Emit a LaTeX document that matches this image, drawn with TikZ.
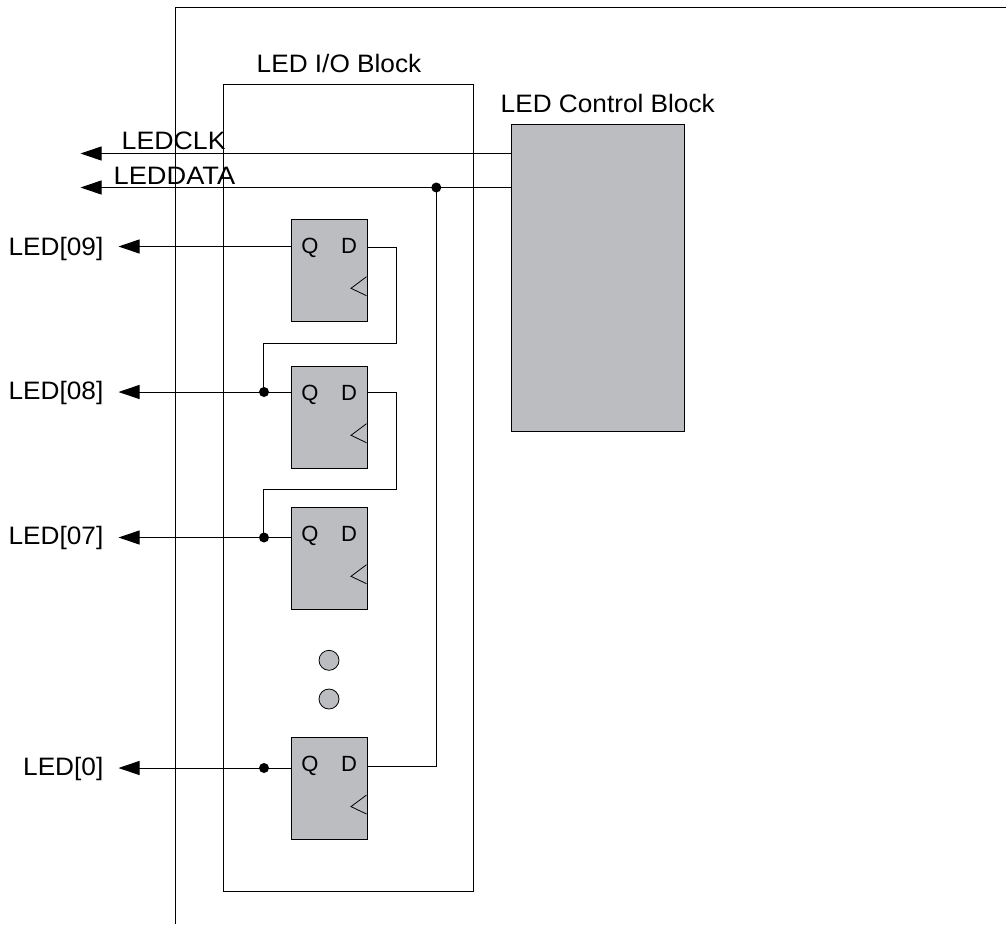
\documentclass[tikz,border=0pt]{standalone}
\usepackage{fontspec}
\setmainfont[FakeStretch=1.04]{Liberation Sans}
\newfontfamily\widefont[FakeStretch=1.08]{Liberation Sans}
\newfontfamily\clkfont[FakeStretch=1.06]{Liberation Sans}
\newfontfamily\pinfont{Liberation Sans}
\usetikzlibrary{arrows.meta,calc}
\definecolor{ffgray}{HTML}{BBBDC0}
\tikzset{
  x=1pt,y=-1pt,
  wire/.style={draw=black,line width=1pt},
  sig/.style={wire,{Triangle[length=21pt,width=14pt]}-},
  ffbox/.style={draw=black,fill=ffgray,line width=1pt,minimum width=76pt,minimum height=102pt,inner sep=0pt,anchor=north west},
  ctrl/.style={draw=black,fill=ffgray,line width=1pt,minimum width=173.5pt,minimum height=307pt,inner sep=0pt,anchor=north west},
  io/.style={draw=black,line width=1pt,minimum width=250pt,minimum height=807pt,inner sep=0pt,anchor=north west},
  lbl/.style={inner sep=0pt,font=\fontsize{25.2pt}{28pt}\selectfont},
  lblw/.style={inner sep=0pt,font=\widefont\fontsize{25.2pt}{28pt}\selectfont},
  lblc/.style={inner sep=0pt,font=\clkfont\fontsize{25.2pt}{28pt}\selectfont},
  pin/.style={inner sep=0pt,font=\pinfont\fontsize{22pt}{26pt}\selectfont},
  dot/.style={circle,fill=black,inner sep=0pt,minimum size=10pt},
  gdot/.style={circle,draw=black,fill=ffgray,line width=0.8pt,inner sep=0pt,minimum size=20pt},
  clk/.style={draw=black,line width=0.8pt},
}
\begin{document}
\begin{tikzpicture}
\useasboundingbox (0,0) rectangle (1006,924);
\coordinate (fTR) at (1006,7.5);
\coordinate (fTL) at (175.5,7.5);
\coordinate (fBL) at (175.5,924);
\draw[wire] (fTR) -- (fTL) -- (fBL);

\node[io] (io) at (222.5,83.5) {};
\node[ctrl] (cb) at (510.5,123.5) {};
\node[ffbox] (f9) at (290.5,218.5) {};
\node[ffbox] (f8) at (290.5,365.5) {};
\node[ffbox] (f7) at (290.5,506.5) {};
\node[ffbox] (f0) at (290.5,736.5) {};
\node[gdot] (g1) at (329,660.3) {};
\node[gdot] (g2) at (329,699) {};

\foreach \n/\y in {f9/219,f8/366,f7/507,f0/737.3}{
  \node[pin,anchor=base] (\n q) at (310,\y+34.3) {Q};
  \node[pin,anchor=base] (\n d) at (349,\y+34.3) {D};
  \coordinate (\n a) at (366.5,\y+57.7);
  \coordinate (\n b) at (351,\y+69.3);
  \coordinate (\n c) at (366.5,\y+76.7);
  \draw[clk] (\n a) -- (\n b) -- (\n c);
}

\node[lblc,anchor=base west] (lclk) at (121.5,149.5) {LEDCLK};
\node[lblw,anchor=base west] (ldata) at (113.5,184.5) {LEDDATA};
\node[lbl,anchor=base east] (l9) at (103.5,255) {LED[09]};
\node[lbl,anchor=base east] (l8) at (103.5,399) {LED[08]};
\node[lbl,anchor=base east] (l7) at (103.5,544.3) {LED[07]};
\node[lbl,anchor=base east] (l0) at (103.5,775) {LED[0]};
\node[lbl,anchor=base west] (tio) at (256.5,72.7) {LED I/O Block};
\node[lbl,anchor=base west] (tcb) at (500.5,112.7) {LED Control Block};

\coordinate (aclk) at (80.5,153.5);
\coordinate (adata) at (80.5,187.5);
\coordinate (a9) at (118.5,246.5);
\coordinate (a8) at (118.5,392);
\coordinate (a7) at (118.5,537.5);
\coordinate (a0) at (118.5,768);

\node[dot] (dd) at (436.3,187.5) {};
\node[dot] (d8) at (264,392) {};
\node[dot] (d7) at (264,537.5) {};
\node[dot] (d0) at (264,768) {};

\draw[sig] (aclk) -- (cb.west |- aclk);
\draw[sig] (adata) -- (cb.west |- adata);
\draw[sig] (a9) -- (f9.west |- a9);
\draw[sig] (a8) -- (f8.west |- a8);
\draw[sig] (a7) -- (f7.west |- a7);
\draw[sig] (a0) -- (f0.west |- a0);

\coordinate (r9) at (396.5,247.5);
\coordinate (m9) at (396.5,343.5);
\coordinate (n9) at (263.5,343.5);
\coordinate (r8) at (396.5,392.5);
\coordinate (m8) at (396.5,489.5);
\coordinate (n8) at (263.5,489.5);
\coordinate (r0) at (436.5,766.5);

\draw[wire] (f9.east |- r9) -- (r9) -- (m9) -- (n9) -- (n9 |- d8.center);
\draw[wire] (f8.east |- r8) -- (r8) -- (m8) -- (n8) -- (n8 |- d7.center);
\draw[wire] (f0.east |- r0) -- (r0) -- (r0 |- dd.center);
\end{tikzpicture}
\end{document}
